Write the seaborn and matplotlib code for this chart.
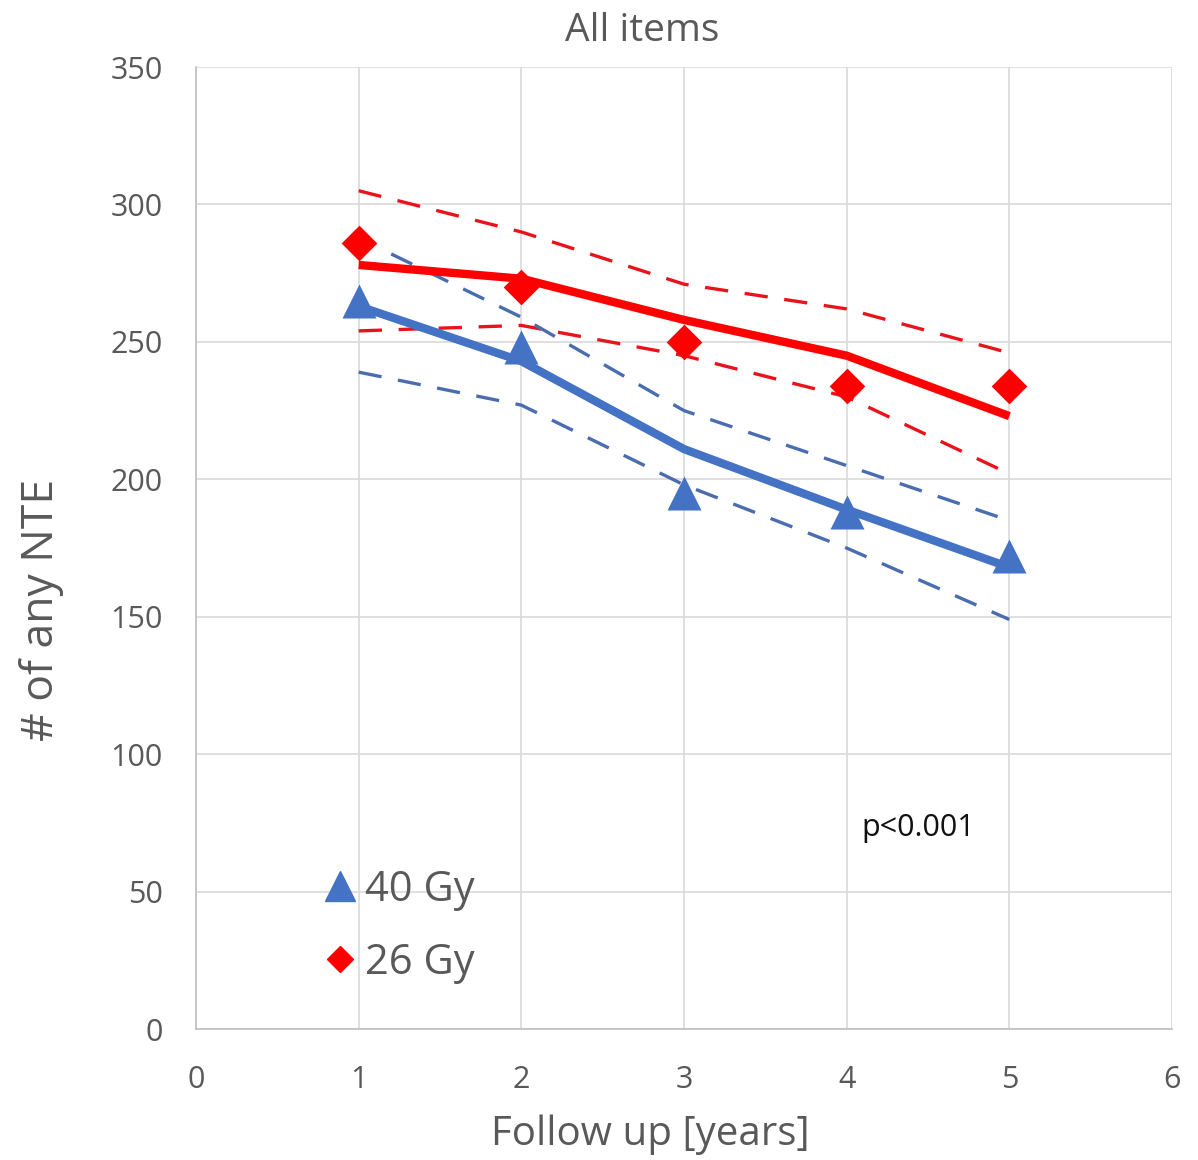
import matplotlib
matplotlib.use("Agg")
import matplotlib.pyplot as plt
from matplotlib.lines import Line2D
import seaborn as sns
import pandas as pd

# Follow-up years
years = [1, 2, 3, 4, 5]

# Observed counts
obs_40gy = [265, 248, 195, 188, 172]
obs_26gy = [286, 270, 250, 234, 234]

# Model fit
fit_40gy = [263, 243, 211, 189, 168]
fit_26gy = [278, 273, 258, 245, 223]

# Confidence bands
upper_26gy = [305, 290, 271, 262, 246]
lower_26gy = [254, 256, 245, 230, 202]
band_years_40gy_upper = [1.2, 2, 3, 4, 5]
upper_40gy = [282, 259, 225, 205, 185]
lower_40gy = [239, 227, 198, 175, 149]

BLUE = "#4472C4"
RED = "#FF0000"
BLUE_DASH = "#4A6DB0"
RED_DASH = "#E8141C"
GRAY = "#595959"

sns.set_theme(style="white")
plt.rcParams["font.family"] = ["Open Sans", "DejaVu Sans"]

W, H = 1198, 1160
fig = plt.figure(figsize=(W / 100, H / 100), dpi=100)
ax = fig.add_axes([0.1636, 0.1129, 0.8147, 0.8293])

dash = (0, (7, 5))

# Confidence bands (dashed)
sns.lineplot(x=years, y=upper_26gy, ax=ax, color=RED_DASH, lw=2.4, linestyle=dash)
sns.lineplot(x=years, y=lower_26gy, ax=ax, color=RED_DASH, lw=2.4, linestyle=dash)
sns.lineplot(x=band_years_40gy_upper, y=upper_40gy, ax=ax, color=BLUE_DASH, lw=2.4, linestyle=dash)
sns.lineplot(x=years, y=lower_40gy, ax=ax, color=BLUE_DASH, lw=2.4, linestyle=dash)

# Fitted trends
sns.lineplot(x=years, y=fit_26gy, ax=ax, color=RED, lw=6, solid_capstyle="butt")
sns.lineplot(x=years, y=fit_40gy, ax=ax, color=BLUE, lw=6, solid_capstyle="butt")

# Observed points
df40 = pd.DataFrame({"year": years, "value": obs_40gy})
df26 = pd.DataFrame({"year": years, "value": obs_26gy})
sns.scatterplot(data=df40, x="year", y="value", marker="^", color=BLUE,
                s=600, linewidth=0, ax=ax, zorder=5)
sns.scatterplot(data=df26, x="year", y="value", marker="D", color=RED,
                s=330, linewidth=0, ax=ax, zorder=5)

ax.set_xlim(0, 6)
ax.set_ylim(0, 350)
ax.set_xticks(range(0, 7))
ax.set_yticks(range(0, 351, 50))
ax.grid(True, color="#D9D9D9", lw=1.2)
ax.set_axisbelow(True)
for side in ["top", "right"]:
    ax.spines[side].set_visible(False)
for side in ["left", "bottom"]:
    ax.spines[side].set_color("#BFBFBF")
    ax.spines[side].set_linewidth(1.2)
ax.tick_params(axis="y", length=0, labelsize=22, labelcolor=GRAY, pad=24)
ax.tick_params(axis="x", length=0, labelsize=22, labelcolor=GRAY, pad=26)
ax.set_xlabel("")
ax.set_ylabel("")

fig.text(650 / W, 1 - 1135 / H, "Follow up [years]", fontsize=29, color=GRAY,
         ha="center", va="center")
fig.text(42 / W, 1 - 610 / H, "# of any NTE", fontsize=32, color=GRAY,
         ha="center", va="center", rotation=90)
fig.text(642 / W, 1 - 31 / H, "All items", fontsize=28, color=GRAY,
         ha="center", va="center")

ax.text(4.09, 73, "p<0.001", fontsize=22, color="#111111", va="center")

handles = [
    Line2D([], [], marker="^", color=BLUE, linestyle="none", markersize=22),
    Line2D([], [], marker="D", color=RED, linestyle="none", markersize=13),
]
ax.legend(handles, ["40 Gy", "26 Gy"], loc="lower left", bbox_to_anchor=(0.086, 0.008),
          frameon=False, fontsize=30, labelcolor=GRAY, handletextpad=0.05,
          labelspacing=0.75, handlelength=1.1)

fig.savefig("out.png", dpi=100, facecolor="white")
